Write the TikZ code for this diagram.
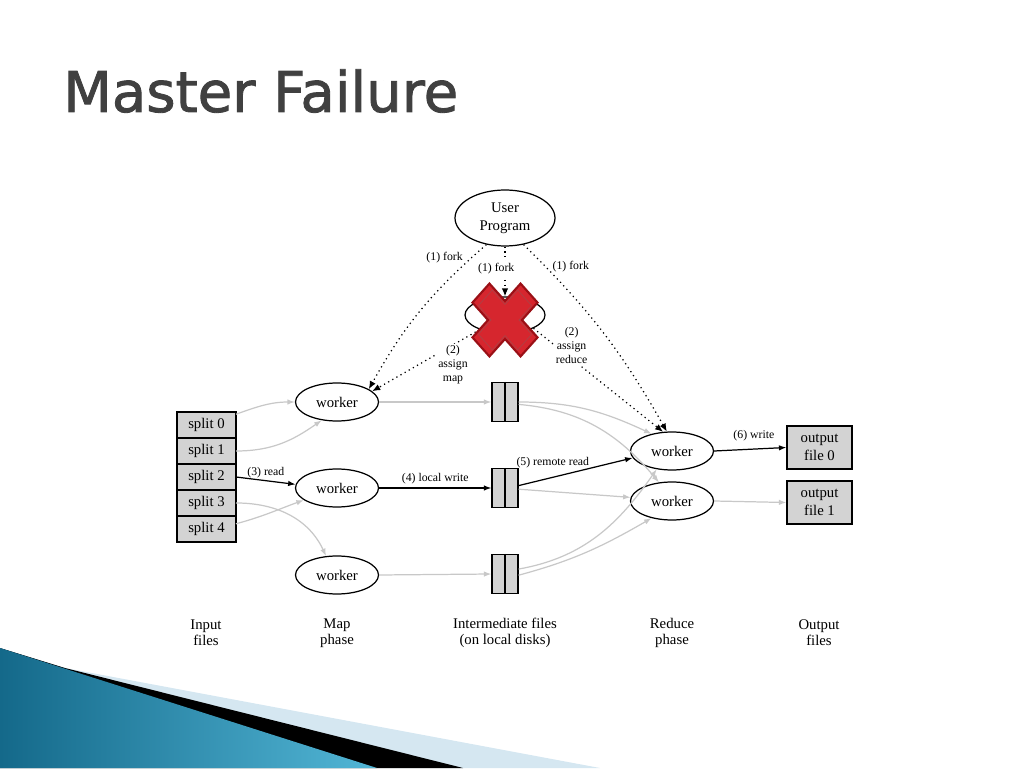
\documentclass[tikz,border=0pt]{standalone}
\usepackage{fontspec}
\setmainfont{Liberation Serif}
\newfontfamily\titlefont[FakeBold=1.5]{DejaVu Sans}
\usetikzlibrary{positioning, shapes.geometric, arrows.meta}

\definecolor{titlegray}{HTML}{404040}
\definecolor{boxgray}{HTML}{D3D3D3}
\definecolor{flowgray}{HTML}{C8C8C8}
\definecolor{crossred}{HTML}{D6262E}
\definecolor{crossdark}{HTML}{9A1016}
\definecolor{wedgeteal}{HTML}{14698A}
\definecolor{wedgelight}{HTML}{52B6D6}
\definecolor{wedgepale}{HTML}{D5E7F1}

\begin{document}
\begin{tikzpicture}[x=0.02cm, y=0.02cm, every node/.style={font=\fontsize{8.4}{10.2}\selectfont}]
  % Styles
  \tikzset{
    prog/.style = {draw, line width=0.7pt, shape=ellipse, minimum width=2cm, minimum height=1.12cm, inner sep=0pt, align=center},
    masterproc/.style = {draw, line width=0.7pt, shape=ellipse, minimum width=1.6cm, minimum height=0.72cm, inner sep=0pt},
    worker/.style = {draw, line width=0.7pt, shape=ellipse, minimum width=1.66cm, minimum height=0.76cm, inner sep=0pt},
    split/.style = {draw, line width=0.7pt, fill=boxgray, minimum width=1.18cm, minimum height=0.52cm, inner sep=0pt, outer sep=0pt},
    interfile/.style = {draw, line width=0.7pt, fill=boxgray, minimum width=0.52cm, minimum height=0.78cm, inner sep=0pt},
    outfile/.style = {draw, line width=0.7pt, fill=boxgray, minimum width=1.3cm, minimum height=0.86cm, inner sep=0pt, align=center},
    phase/.style = {align=center, font=\fontsize{8.4}{9.1}\selectfont},
    elabel/.style = {font=\fontsize{6.7}{7.9}\selectfont, inner sep=1pt, align=center},
    ctrl/.style = {dotted, line width=0.7pt, -{Latex[length=1.6mm, width=1.3mm]}},
    data/.style = {line width=0.7pt, -{Latex[length=1.5mm, width=1.1mm]}},
    faint/.style = {data, draw=flowgray, color=flowgray}
  }
  \useasboundingbox (0,0) rectangle (1024,768);

  % Corner decoration
  \fill[wedgepale] (0,120) -- (65,100) -- (600,0) -- (0,0) -- cycle;
  \fill[black] (0,120) -- (65,100) -- (463,0) -- (0,0) -- cycle;
  \shade[left color=wedgeteal, right color=wedgelight] (0,120) -- (377,0) -- (0,0) -- cycle;

  % Title
  \node[anchor=base west, inner sep=0pt, text=titlegray, font=\titlefont\fontsize{32}{32}\selectfont] (title) at (63,656) {Master Failure};

  % Processes
  \node[prog] (user) at (505,550) {User\\Program};
  \node[masterproc] (master) at (505,453) {Master};

  % Input splits
  \node[split] (s0) at (206.5,343) {split 0};
  \foreach \i [remember=\i as \prev (initially 0)] in {1,...,4}
    \node[split, below=0pt of s\prev] (s\i) {split \i};

  % Map workers
  \node[worker] (mw1) at (337,366) {worker};
  \node[worker] (mw2) at (337,280) {worker};
  \node[worker] (mw3) at (337,193) {worker};

  % Intermediate files
  \foreach \f/\y in {f1/366, f2/280, f3/194} {
    \node[interfile] (\f) at (505,\y) {};
    \draw[line width=0.7pt] (\f.north) -- (\f.south);
  }

  % Reduce workers and output
  \node[worker] (rw1) at (672,317) {worker};
  \node[worker] (rw2) at (672,267) {worker};
  \node[outfile] (o0) at (819.5,320.5) {output\\file 0};
  \node[outfile] (o1) at (819.5,265.5) {output\\file 1};

  % Phase labels
  \node[phase] (inlabel) at (206,135) {Input\\files};
  \node[phase] (maplabel) at (337,135) {Map\\phase};
  \node[phase] (midlabel) at (505,135) {Intermediate files\\(on local disks)};
  \node[phase] (redlabel) at (672,135) {Reduce\\phase};
  \node[phase] (outlabel) at (819,135) {Output\\files};

  % Control flow
  \draw[ctrl] (user.235) to[bend right=10] node[elabel, pos=0.09, left=4pt] {(1) fork} (mw1.22);
  \draw[ctrl] (user.south) -- node[elabel, fill=white, pos=0.44, xshift=-5pt] {(1) fork} (master.north);
  \draw[ctrl] (user.305) to[bend left=8] node[elabel, pos=0.12, right=2.5pt] {(1) fork} (rw1.105);
  \draw[ctrl] (master.210) -- node[elabel, fill=white, pos=0.2, yshift=-13pt, xshift=-3pt] {(2)\\assign\\map} (mw1.17);
  \draw[ctrl] (master.335) -- node[elabel, fill=white, pos=0.22, yshift=3pt, xshift=5.5pt] {(2)\\assign\\reduce} (rw1.115);

  % Map input
  \draw[faint] (s0.20) to[out=20, in=180] (mw1.west);
  \draw[faint] (s1.east) to[out=0, in=215] (mw1.230);
  \draw[data] (s2.east) -- node[elabel, above=0pt] {(3) read} (mw2.175);
  \draw[faint] (s3.east) to[out=0, in=115] (mw3.120);
  \draw[faint] (s4.10) to[out=15, in=200] (mw2.200);

  % Local writes
  \draw[faint] (mw1.east) -- (f1.west);
  \draw[data] (mw2.east) -- node[elabel, above=1pt] {(4) local write} (f2.west);
  \draw[faint] (mw3.east) -- (f3.west);

  % Shuffle
  \draw[faint] (f1.east) to[out=0, in=155] (rw1.140);
  \draw[faint] (f1.-10) to[out=-5, in=130] (rw2.125);
  \draw[data] (f2.10) -- node[elabel, pos=0.3, above=4pt] {(5) remote read} (rw1.190);
  \draw[faint] (f2.-5) -- (rw2.175);
  \draw[faint] (f3.20) to[out=10, in=235] (rw1.230);
  \draw[faint] (f3.-5) to[out=15, in=210] (rw2.220);

  % Output
  \draw[data] (rw1.east) -- node[elabel, pos=0.55, above=3pt] {(6) write} (o0.west);
  \draw[faint] (rw2.east) -- (o1.west);

  % Failed master
  \begin{scope}[shift={(505,448)}, yscale=1.12, rotate=45]
    \filldraw[fill=crossred, draw=crossdark, line width=1.2pt, line join=miter]
      (12,12) -- (34,12) -- (34,-12) -- (12,-12) -- (12,-34) -- (-12,-34) -- (-12,-12)
      -- (-34,-12) -- (-34,12) -- (-12,12) -- (-12,34) -- (12,34) -- cycle;
    \draw[crossdark!80, line width=0.4pt, scale=0.82]
      (12,12) -- (34,12) -- (34,-12) -- (12,-12) -- (12,-34) -- (-12,-34) -- (-12,-12)
      -- (-34,-12) -- (-34,12) -- (-12,12) -- (-12,34) -- (12,34) -- cycle;
  \end{scope}
\end{tikzpicture}
\end{document}
